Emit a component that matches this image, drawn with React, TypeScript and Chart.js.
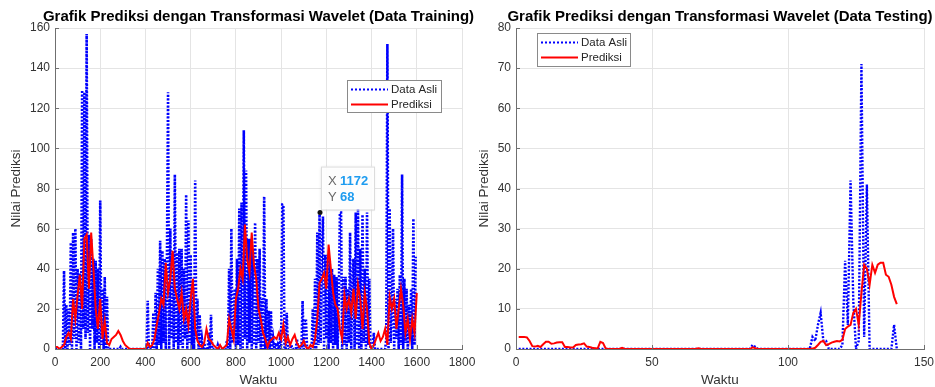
import React, { useEffect, useRef } from "react";
import { Chart, registerables } from "chart.js";

Chart.register(...registerables);

const FONT = '"Liberation Sans", Arial, Helvetica, sans-serif';

// ---------- Training panel data ----------
const trainActualStep = 5; // Waktu spacing of the original series samples
const trainActual = [
  0, 0, 0, 0, 0, 0, 0, 0, 39, 0,
  22, 0, 20, 2, 53, 0, 58, 5, 60, 0,
  40, 3, 38, 0, 129, 10, 128, 5, 157, 8,
  57, 0, 55, 10, 45, 0, 44, 3, 40, 0,
  74, 2, 30, 0, 36, 0, 26, 0, 0, 0,
  0, 0, 0, 0, 0, 0, 0, 0, 1, 0,
  0, 0, 0, 0, 0, 0, 0, 0, 0, 0,
  0, 0, 0, 0, 0, 0, 0, 0, 0, 0,
  0, 0, 24, 0, 0, 0, 0, 18, 0, 28,
  0, 40, 2, 54, 0, 49, 3, 45, 0, 44,
  128, 0, 60, 5, 48, 0, 87, 3, 48, 0,
  50, 2, 50, 0, 40, 5, 77, 0, 64, 3,
  47, 0, 30, 0, 84, 5, 25, 0, 17, 0,
  5, 0, 3, 0, 0, 0, 8, 0, 17, 0,
  0, 0, 0, 0, 2, 0, 0, 0, 0, 0,
  0, 0, 4, 0, 40, 0, 60, 3, 8, 30,
  0, 45, 2, 70, 0, 73, 0, 109, 5, 89,
  0, 55, 3, 55, 0, 50, 2, 63, 0, 45,
  3, 50, 0, 25, 0, 76, 0, 25, 0, 19,
  0, 19, 0, 5, 0, 3, 0, 2, 0, 5,
  0, 72, 72, 0, 0, 18, 0, 0, 0, 2,
  0, 0, 0, 0, 5, 0, 0, 0, 0, 24,
  0, 14, 14, 0, 0, 0, 0, 0, 20, 0,
  35, 0, 58, 2, 68, 3, 45, 66, 0, 47,
  5, 47, 0, 45, 3, 40, 0, 37, 2, 36,
  0, 25, 68, 68, 0, 36, 2, 36, 0, 30,
  3, 58, 0, 30, 45, 0, 68, 2, 70, 0,
  50, 0, 67, 3, 40, 0, 68, 2, 35, 0,
  0, 0, 8, 0, 0, 0, 0, 0, 0, 0,
  0, 0, 0, 5, 152, 0, 70, 3, 20, 60,
  0, 25, 5, 30, 0, 37, 2, 87, 0, 35,
  3, 30, 0, 22, 5, 30, 0, 65, 2, 46,
];

const trainPredStep = 10;
const trainPred = [
  1, 1, 0, 1, 2, 6, 8, 5, 25, 15,
  27, 37, 20, 55, 57, 30, 58, 40, 20, 10,
  25, 5, 14, 3, 2, 5, 6, 7, 9, 7,
  4, 2, 1, 0, 0, 0, 0, 0, 0, 0,
  0, 3, 1, 2, 5, 12, 18, 25, 22, 43,
  28, 35, 49, 30, 25, 20, 28, 15, 20, 12,
  25, 35, 10, 4, 2, 1, 3, 10, 5, 4,
  2, 1, 0, 2, 0, 1, 2, 15, 10, 5,
  25, 30, 40, 35, 62, 45, 38, 58, 42, 35,
  20, 15, 8, 5, 1, 4, 5, 6, 5, 8,
  5, 12, 3, 6, 2, 5, 7, 3, 1, 2,
  4, 1, 0, 2, 1, 5, 15, 33, 35, 38,
  30, 52, 40, 28, 22, 20, 10, 5, 27, 20,
  25, 18, 30, 15, 32, 25, 10, 28, 20, 3,
  0, 2, 5, 8, 4, 6, 10, 2, 26, 20,
  25, 10, 20, 30, 22, 8, 15, 5, 15, 8,
  28,
];

// ---------- Testing panel data (Waktu = 1..140) ----------
const testActual = [
  0, 0, 0, 0, 0, 0, 0, 0, 0, 0,
  0, 0, 0, 0, 0, 0, 0, 0, 0, 0,
  0, 0, 0, 0, 0, 0, 0, 0, 0, 0,
  0, 0, 0, 0, 0, 0, 0, 0, 0, 0,
  0, 0, 0, 0, 0, 0, 0, 0, 0, 0,
  0, 0, 0, 0, 0, 0, 0, 0, 0, 0,
  0, 0, 0, 0, 0, 0, 0, 0, 0, 0,
  0, 0, 0, 0, 0, 0, 0, 0, 0, 0,
  0, 0, 0, 0, 0, 0, 1, 0.5, 0, 0,
  0, 0, 0, 0, 0, 0, 0, 0, 0, 0,
  0, 0, 0, 0, 0, 0, 0, 0, 3, 2,
  6, 9, 2, 2, 0, 0, 0, 0, 0, 1,
  22, 6, 42, 12, 0, 2, 71, 3, 41, 0,
  0, 0, 0, 0, 0, 0, 0, 0, 6, 0,
];

const testPred = [
  3, 3, 3, 2.9, 2, 0.7, 0.6, 0.8, 0.5, 1.2,
  1.8, 1.8, 1.3, 1.4, 1.6, 1.7, 1.7, 0.5, 0.5, 0.4,
  0.4, 1, 1.1, 1.2, 1.4, 0.6, 0.5, 0.3, 0.2, 0.1,
  1.8, 1.5, 0.1, 0, 0, 0, 0, 0, 0.3, 0,
  0, 0, 0, 0, 0, 0, 0, 0, 0, 0,
  0, 0, 0, 0, 0, 0, 0, 0, 0, 0,
  0, 0, 0, 0, 0, 0, 0.2, 0, 0, 0,
  0, 0, 0, 0, 0, 0, 0, 0, 0, 0,
  0, 0, 0, 0, 0, 0, 0.4, 0.2, 0, 0,
  0, 0, 0, 0, 0, 0, 0, 0, 0, 0,
  0, 0, 0, 0, 0, 0, 0, 0, 0.1, 0.3,
  1, 1.8, 2, 1, 1.2, 1.6, 1.8, 2, 1.9, 2.3,
  5, 5.6, 6, 9, 10, 6, 14, 21, 20, 16,
  21, 19, 21, 21.5, 21.5, 18.5, 18, 16, 13, 11.2,
];
const testStart = 1;

// ---------- Text / axes ----------
const seriesNames = ["Data Asli", "Prediksi"];
const xAxisTitle = "Waktu";
const yAxisTitle = "Nilai Prediksi";
const trainTitle = "Grafik Prediksi dengan Transformasi Wavelet (Data Training)";
const testTitle = "Grafik Prediksi dengan Transformasi Wavelet (Data Testing)";
const trainXRange = [0, 1800];
const trainXTickStep = 200;
const trainYRange = [0, 160];
const trainYTickStep = 20;
const testXRange = [0, 150];
const testXTickStep = 50;
const testYRange = [0, 80];
const testYTickStep = 10;
const datatipX = 1172;
const datatipY = 68;

const BLUE = "#0000ff";
const RED = "#ff0000";
const GRID = "#e4e4e4";
const AXIS = "#6f6f6f";
const TICK = "#333333";
const DOTS = [2, 1.6];

type PanelCfg = {
  title: string;
  actual: { x: number; y: number }[];
  pred: { x: number; y: number }[];
  xRange: number[];
  xStep: number;
  yRange: number[];
  yStep: number;
  padLeft: number;
  padRight: number;
  yWidth: number;
  yTitlePad: number;
  blueWidth: number;
  legend: { dx: number; dy: number; w: number; h: number };
  datatip?: { x: number; y: number };
};

function drawTitle(chart: any, text: string) {
  const ctx = chart.ctx as CanvasRenderingContext2D;
  const area = chart.chartArea;
  ctx.save();
  ctx.font = `bold 15px ${FONT}`;
  ctx.fillStyle = "#000000";
  ctx.textAlign = "center";
  ctx.textBaseline = "middle";
  ctx.fillText(text, (area.left + area.right) / 2, 16.5);
  ctx.restore();
}

function drawInnerTicks(chart: any) {
  const ctx = chart.ctx as CanvasRenderingContext2D;
  const area = chart.chartArea;
  const xs = chart.scales.x;
  const ys = chart.scales.y;
  ctx.save();
  ctx.strokeStyle = AXIS;
  ctx.lineWidth = 1;
  ctx.beginPath();
  xs.ticks.forEach((t: any) => {
    const p = Math.round(xs.getPixelForValue(t.value)) + 0.5;
    ctx.moveTo(p, area.bottom);
    ctx.lineTo(p, area.bottom - 4);
  });
  ys.ticks.forEach((t: any) => {
    const p = Math.round(ys.getPixelForValue(t.value)) + 0.5;
    ctx.moveTo(area.left, p);
    ctx.lineTo(area.left + 4, p);
  });
  ctx.stroke();
  ctx.restore();
}

function drawLegend(chart: any, lg: PanelCfg["legend"]) {
  const ctx = chart.ctx as CanvasRenderingContext2D;
  const area = chart.chartArea;
  const x = Math.round(area.left + lg.dx);
  const y = Math.round(area.top + lg.dy);
  ctx.save();
  ctx.fillStyle = "#ffffff";
  ctx.fillRect(x, y, lg.w, lg.h);
  ctx.strokeStyle = "#8a8a8a";
  ctx.lineWidth = 1;
  ctx.setLineDash([]);
  ctx.strokeRect(x + 0.5, y + 0.5, lg.w, lg.h);
  const rows = [
    { label: seriesNames[0], color: BLUE, dash: [2, 2] },
    { label: seriesNames[1], color: RED, dash: [] as number[] },
  ];
  rows.forEach((r, i) => {
    const cy = y + 9.5 + i * 15;
    ctx.beginPath();
    ctx.setLineDash(r.dash);
    ctx.strokeStyle = r.color;
    ctx.lineWidth = 2;
    ctx.moveTo(x + 4, cy);
    ctx.lineTo(x + 41, cy);
    ctx.stroke();
    ctx.setLineDash([]);
    ctx.fillStyle = "#262626";
    ctx.font = `11.5px ${FONT}`;
    ctx.textBaseline = "middle";
    ctx.textAlign = "left";
    ctx.fillText(r.label, x + 44, cy);
  });
  ctx.restore();
}

function drawDatatip(chart: any, tip: { x: number; y: number }) {
  const ctx = chart.ctx as CanvasRenderingContext2D;
  const px = chart.scales.x.getPixelForValue(tip.x);
  const py = chart.scales.y.getPixelForValue(tip.y);
  ctx.save();
  const bx = px + 1;
  const by = py - 46;
  const bw = 53;
  const bh = 43;
  ctx.shadowColor = "rgba(0,0,0,0.18)";
  ctx.shadowBlur = 3;
  ctx.fillStyle = "rgba(255,255,255,0.95)";
  ctx.fillRect(bx, by, bw, bh);
  ctx.shadowBlur = 0;
  ctx.shadowColor = "transparent";
  ctx.strokeStyle = "#dcdcdc";
  ctx.lineWidth = 1;
  ctx.strokeRect(bx + 0.5, by + 0.5, bw, bh);
  ctx.textBaseline = "middle";
  ctx.textAlign = "left";
  ctx.font = `13px ${FONT}`;
  ctx.fillStyle = "#6a6a6a";
  ctx.fillText("X", bx + 7, by + 15);
  ctx.fillText("Y", bx + 7, by + 31);
  ctx.font = `bold 13px ${FONT}`;
  ctx.fillStyle = "#1e9cf0";
  ctx.fillText(String(tip.x), bx + 19, by + 15);
  ctx.fillText(String(tip.y), bx + 19, by + 31);
  ctx.beginPath();
  ctx.fillStyle = "#111111";
  ctx.arc(px, py, 2.5, 0, Math.PI * 2);
  ctx.fill();
  ctx.restore();
}

function makeConfig(cfg: PanelCfg): any {
  const overlay = {
    id: "overlay",
    afterDraw(chart: any) {
      drawInnerTicks(chart);
      drawTitle(chart, cfg.title);
      if (cfg.datatip) drawDatatip(chart, cfg.datatip);
      drawLegend(chart, cfg.legend);
    },
  };
  const plainTick = (v: any) => String(v);
  return {
    type: "line",
    data: {
      datasets: [
        {
          label: seriesNames[1],
          data: cfg.pred,
          borderColor: RED,
          borderWidth: 2,
          pointRadius: 0,
          tension: 0,
          order: 0,
        },
        {
          label: seriesNames[0],
          data: cfg.actual,
          borderColor: BLUE,
          borderWidth: cfg.blueWidth,
          borderDash: DOTS,
          pointRadius: 0,
          tension: 0,
          order: 1,
        },
      ],
    },
    options: {
      animation: false,
      responsive: false,
      maintainAspectRatio: false,
      events: [],
      layout: { padding: { left: cfg.padLeft, right: cfg.padRight, top: 28, bottom: 0 } },
      plugins: {
        legend: { display: false },
        tooltip: { enabled: false },
        title: { display: false },
      },
      scales: {
        x: {
          type: "linear",
          min: cfg.xRange[0],
          max: cfg.xRange[1],
          ticks: {
            stepSize: cfg.xStep,
            autoSkip: false,
            maxRotation: 0,
            padding: 6,
            color: TICK,
            font: { family: FONT, size: 12 },
            callback: plainTick,
          },
          grid: { color: GRID, drawTicks: false, lineWidth: 1 },
          border: { color: AXIS, width: 1 },
          title: {
            display: true,
            text: xAxisTitle,
            color: TICK,
            font: { family: FONT, size: 13.5, lineHeight: 1 },
            padding: { top: 0, bottom: 0 },
          },
          afterFit: (s: any) => {
            s.height = 38;
            s.paddingLeft = 0;
            s.paddingRight = 0;
          },
        },
        y: {
          type: "linear",
          min: cfg.yRange[0],
          max: cfg.yRange[1],
          ticks: {
            stepSize: cfg.yStep,
            autoSkip: false,
            padding: 5,
            color: TICK,
            font: { family: FONT, size: 12 },
            callback: plainTick,
          },
          grid: { color: GRID, drawTicks: false, lineWidth: 1 },
          border: { color: AXIS, width: 1 },
          title: {
            display: true,
            text: yAxisTitle,
            color: TICK,
            font: { family: FONT, size: 13.5, lineHeight: 1 },
            padding: { top: cfg.yTitlePad, bottom: 0 },
          },
          afterFit: (s: any) => {
            s.width = cfg.yWidth;
            s.paddingTop = 0;
            s.paddingBottom = 0;
          },
        },
      },
    },
    plugins: [overlay],
  };
}

export default function App() {
  const leftRef = useRef<HTMLCanvasElement>(null);
  const rightRef = useRef<HTMLCanvasElement>(null);

  useEffect(() => {
    document.body.style.margin = "0";
    const trainActualPts = trainActual.map((v, i) => ({ x: i * trainActualStep, y: v }));
    const trainPredPts = trainPred.map((v, i) => ({ x: i * trainPredStep, y: v }));
    const testActualPts = testActual.map((v, i) => ({ x: testStart + i, y: v }));
    const testPredPts = testPred.map((v, i) => ({ x: testStart + i, y: v }));

    const left = new Chart(
      leftRef.current as HTMLCanvasElement,
      makeConfig({
        title: trainTitle,
        actual: trainActualPts,
        pred: trainPredPts,
        xRange: trainXRange,
        xStep: trainXTickStep,
        yRange: trainYRange,
        yStep: trainYTickStep,
        padLeft: 0,
        padRight: 473,
        yWidth: 55,
        yTitlePad: 10,
        blueWidth: 2.6,
        legend: { dx: 292, dy: 52, w: 94, h: 32 },
        datatip: { x: datatipX, y: datatipY },
      })
    );
    const right = new Chart(
      rightRef.current as HTMLCanvasElement,
      makeConfig({
        title: testTitle,
        actual: testActualPts,
        pred: testPredPts,
        xRange: testXRange,
        xStep: testXTickStep,
        yRange: testYRange,
        yStep: testYTickStep,
        padLeft: 470,
        padRight: 11,
        yWidth: 46,
        yTitlePad: 8,
        blueWidth: 2.4,
        legend: { dx: 21, dy: 5, w: 93, h: 33 },
      })
    );
    return () => {
      left.destroy();
      right.destroy();
    };
  }, []);

  return (
    <div style={{ position: "relative", width: 935, height: 387, background: "#ffffff", overflow: "hidden" }}>
      <canvas ref={leftRef} width={935} height={387} style={{ position: "absolute", left: 0, top: 0, width: 935, height: 387 }} />
      <canvas ref={rightRef} width={935} height={387} style={{ position: "absolute", left: 0, top: 0, width: 935, height: 387 }} />
    </div>
  );
}
